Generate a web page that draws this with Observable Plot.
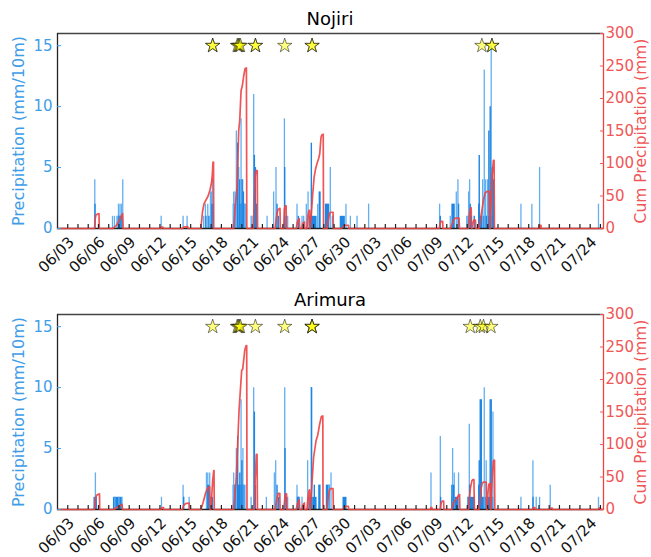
<!DOCTYPE html>
<html><head><meta charset="utf-8">
<script src="https://cdn.jsdelivr.net/npm/d3@7"></script>
<script src="https://cdn.jsdelivr.net/npm/@observablehq/plot@0.6"></script>
<style>
html,body{margin:0;padding:0;background:#fff;}
body{width:651px;height:557px;overflow:hidden;font-family:"DejaVu Sans",sans-serif;}
.panel{position:relative;width:651px;}
.panel svg{display:block;overflow:visible;}
.title{position:absolute;left:57px;width:546px;top:10px;text-align:center;font-size:18px;line-height:18px;color:#000;font-family:"DejaVu Sans";}
</style></head>
<body><div id="chart"></div>
<script>
// ---- data (time = days since 06/03 00:00) ----
const YEAR = 2020;
const xTickLabels = ["06/03","06/06","06/09","06/12","06/15","06/18","06/21","06/24","06/27","06/30","07/03","07/06","07/09","07/12","07/15","07/18","07/21","07/24"];
const leftTicks = [0, 5, 10, 15];
const rightTicks = [0, 50, 100, 150, 200, 250, 300];
const xEndDays = 53.3;

const nojiriLight = [
[3.64,4],[5.37,1],[5.56,1],[5.8,1],[5.95,2],[6.1,2],[6.24,2],[6.37,4],
[10.12,1],[12.26,1],[12.65,1],
[14.27,1],[14.44,2],[14.67,2],[14.93,3],[15.02,3],[15.12,4],
[17.2,3],[17.33,3],[17.46,8],[17.69,5],[17.92,9],[18.08,4],[18.24,2],[18.37,2],
[18.9,1],[18.99,1],[19.15,11],
[20.46,1],[21.1,3],[21.33,5],[22.15,9],[22.47,1],
[23.38,2],[23.87,1],[24.03,1],
[24.29,2],[24.46,3],[25.4,2],[25.66,3],[26.63,5],[26.83,1],
[28.16,2],[28.59,1],[29.24,1],[30.37,2],
[37.3,2],[38.34,1],[38.93,3],[39.09,4],
[39.95,1],[40.05,1],[40.13,3],[40.23,4],[40.33,1],
[41.5,4],[41.66,13],[41.79,4],[41.98,4],[42.34,15],
[45.24,2],[46.31,2],[47.06,5],[52.81,2]
];
const nojiriDark = [
[3.66,2],[6.0,1],[6.2,1],
[14.49,1],[14.78,1],[15.07,2],[15.19,2],
[17.59,7],[17.79,4],[18.02,4],[18.15,3],
[19.22,6],[19.32,5],[19.41,2],
[21.43,2],[21.56,1],[22.18,5],[22.31,1],
[23.51,1],
[24.62,1],[24.78,7],[25.56,3],
[37.37,1],[39.15,2],[40.29,2],[40.4,1],[40.68,1],
[41.17,6],[41.86,1],[42.11,8],[42.24,10],[42.44,5],[42.57,4]
];
const nojiriDense = [[5.9,6.35,1],[17.15,18.35,2],[24.68,25.34,1],[26.15,26.57,2],[27.6,28.1,1],[38.5,38.83,2],[41.1,41.3,2],[41.3,42.6,1]];
const nojiriCum = [
[0,0],
[3.62,0],[3.68,15],[3.75,21],[4.05,23],[4.08,0],
[5.4,0],[5.7,4],[5.95,10],[6.2,18],[6.35,23],[6.4,0],
[10.1,0],[10.15,2],[10.3,2],[10.32,0],
[12.2,0],[12.3,2],[12.7,3],[12.75,0],
[14.0,0],[14.15,25],[14.3,38],[14.5,44],[14.7,50],[14.9,60],[15.05,72],[15.12,85],[15.18,102],[15.23,102],[15.25,0],
[17.2,0],[17.37,38],[17.53,63],[17.69,151],[17.79,166],[17.92,212],[18.05,220],[18.18,235],[18.31,246],[18.44,247],[18.48,0],
[19.12,0],[19.2,40],[19.3,80],[19.36,89],[19.5,89],[19.53,0],
[21.25,0],[21.35,15],[21.5,28],[21.6,30],[21.72,31],[21.75,0],
[22.08,0],[22.15,30],[22.24,35],[22.32,35],[22.34,0],
[23.3,0],[23.45,12],[23.6,15],[23.65,0],
[23.85,0],[23.95,8],[24.1,10],[24.12,0],
[24.35,0],[24.45,20],[24.55,28],[24.6,28],[24.62,0],
[24.65,0],[24.75,15],[24.9,50],[25.05,79],[25.2,92],[25.33,100],[25.5,108],[25.6,115],[25.72,140],[25.8,144],[25.94,145],[25.97,0],
[26.3,0],[26.4,10],[26.55,22],[26.65,25],[26.9,25],[26.93,0],
[27.7,0],[27.9,3],[28.1,5],[28.4,5],[28.42,0],
[37.28,0],[37.35,8],[37.45,11],[37.6,11],[37.62,0],
[38.35,0],[38.5,6],[38.7,14],[38.85,16],[39.2,16],[39.24,0],
[40.1,0],[40.2,20],[40.3,30],[40.38,32],[40.42,0],
[40.45,0],[40.55,8],[40.65,13],[40.8,13],[40.82,0],
[41.15,0],[41.3,15],[41.45,30],[41.6,45],[41.75,55],[41.95,57],[42.15,57],[42.2,0],
[42.22,0],[42.32,40],[42.42,80],[42.55,105],[42.62,105],[42.65,0],
[47.0,0],[47.05,5],[47.2,5],[47.22,0],
[53.3,0]
];
const nojiriStars = [15.15,15.15,17.55,17.65,17.75,17.85,19.32,19.32,22.18,24.85,24.85,41.43,42.41,42.41];

const arimuraLight = [
[3.7,3],[5.6,1],[6.0,1],[6.3,1],
[10.15,1],[12.26,2],[12.85,1],
[14.54,3],[14.67,3],[14.86,3],
[17.2,3],[17.46,5],[17.92,9],[18.1,5],[18.3,2],
[18.9,1],[19.15,10],
[20.39,1],[21.17,3],[21.3,4],[22.18,10],[22.47,1],
[23.38,2],[23.87,1],
[24.42,4],[24.82,10],[26.47,2],[26.7,3],
[36.46,3],[37.37,6],[38.57,5],[38.73,3],[39.15,3],
[40.2,7],[41.66,10],[41.85,4],[42.51,8],
[45.24,1],[46.41,4],[46.73,1],[47.06,1],[48.1,2],[52.81,1]
];
const arimuraDark = [
[3.72,1],[12.32,1],
[14.67,2],[14.76,2],[15.02,1],[15.12,1],
[17.59,6],[17.8,3],[18.0,4],
[19.22,8],[19.32,2],
[21.43,2],[21.59,1],[22.21,5],[22.34,1],
[23.45,1],[23.58,1],
[24.55,1],[24.78,10],[25.07,2],
[37.4,1],[38.5,2],[38.67,2],
[40.07,1],[40.23,2],
[41.17,4],[41.27,9],[41.37,9],[42.24,9],[42.34,9],[46.42,1]
];
const arimuraDense = [[3.56,3.9,1],[5.46,6.34,1],[17.14,18.34,2],[23.4,23.6,1],[24.68,25.34,1],[25.5,25.73,2],[26.24,26.63,2],[27.87,28.26,1],[38.5,39.25,1],[40.13,40.78,1],[41.1,41.4,2],[41.1,42.6,1]];
const arimuraCum = [
[0,0],
[3.6,0],[3.7,15],[3.8,22],[4.1,24],[4.12,0],
[5.5,0],[5.8,3],[6.1,6],[6.3,8],[6.35,0],
[10.1,0],[10.2,3],[10.35,3],[10.37,0],
[12.2,0],[12.3,6],[12.5,9],[12.85,10],[12.88,0],
[14.0,0],[14.2,10],[14.45,25],[14.65,33],[14.85,35],[14.9,0],
[14.97,0],[15.05,20],[15.15,45],[15.25,60],[15.28,60],[15.3,0],
[17.2,0],[17.46,50],[17.72,152],[17.98,214],[18.08,216],[18.28,245],[18.41,252],[18.47,252],[18.5,0],
[19.2,0],[19.3,45],[19.41,85],[19.48,85],[19.52,0],
[21.25,0],[21.4,15],[21.55,25],[21.7,25],[21.73,0],
[22.1,0],[22.18,15],[22.26,24],[22.36,24],[22.38,0],
[23.3,0],[23.45,10],[23.6,15],[23.65,0],
[23.85,0],[23.95,7],[24.1,10],[24.12,0],
[24.35,0],[24.45,18],[24.55,29],[24.6,30],[24.63,0],
[24.68,0],[24.8,30],[25.0,80],[25.24,106],[25.4,114],[25.6,132],[25.76,143],[25.9,144],[25.92,0],
[26.3,0],[26.4,15],[26.55,30],[26.65,32],[26.9,32],[26.93,0],
[27.8,0],[28.0,3],[28.2,5],[28.4,5],[28.42,0],
[36.4,0],[36.45,3],[36.55,3],[36.57,0],
[37.35,0],[37.45,10],[37.55,13],[37.7,13],[37.72,0],
[38.48,0],[38.6,8],[38.75,13],[38.95,16],[39.15,22],[39.25,23],[39.28,0],
[40.12,0],[40.2,15],[40.3,32],[40.45,44],[40.55,46],[40.65,46],[40.7,0],
[41.15,0],[41.25,15],[41.35,32],[41.45,40],[41.55,42],[41.85,42],[41.9,0],
[41.95,0],[42.02,25],[42.1,38],[42.18,40],[42.24,40],[42.27,0],
[42.3,0],[42.38,30],[42.46,55],[42.55,75],[42.66,76],[42.69,0],
[46.4,0],[46.45,3],[46.6,3],[46.62,0],
[48.1,0],[48.15,2],[48.3,2],[48.32,0],
[52.8,0],[52.85,2],[53.0,2],[53.02,0],
[53.3,0]
];
const arimuraStars = [15.15,17.55,17.65,17.75,17.85,19.32,22.18,24.85,24.85,24.85,40.29,41.27,41.59,42.31];

// ---- helpers ----
const start = Date.UTC(YEAR, 5, 3);
const day = t => new Date(start + t * 864e5);
const parseMD = s => { const [m, d] = s.split("/").map(Number); return new Date(Date.UTC(YEAR, m - 1, d)); };
const Y_MAX = 16, CUM_MAX = 300;
const toLeft = c => c * Y_MAX / CUM_MAX;
const BLUE_TXT = "#3f9de8", RED_TXT = "#f05656", RED_LINE = "#ee4242";
const LIGHT = "#62aff2", DARK = "#1e86e2";
const FONT = "DejaVu Sans";
const dailyTicks = d3.range(1, Math.floor(xEndDays) + 1).map(day);

function panel(title, light, dark, dense, cum, stars, height, marginBottom) {
  const svg = Plot.plot({
    width: 651, height, marginTop: 33, marginBottom, marginLeft: 57, marginRight: 48,
    style: {fontFamily: FONT, background: "white", overflow: "visible"},
    x: {type: "utc", domain: [day(0), day(xEndDays)], axis: null},
    y: {domain: [0, Y_MAX], axis: null},
    marks: [
      Plot.rect(dense, {x1: d => day(d[0]), x2: d => day(d[1]), y1: () => 0, y2: d => d[2], fill: DARK}),
      Plot.ruleX(light, {x: d => day(d[0]), y1: () => 0, y2: d => d[1], stroke: LIGHT, strokeWidth: 1.3}),
      Plot.ruleX(dark, {x: d => day(d[0]), y1: () => 0, y2: d => d[1], stroke: DARK, strokeWidth: 1.4}),
      Plot.ruleY([Y_MAX], {stroke: "#444", strokeWidth: 1.3}),
      Plot.ruleY([0], {stroke: "#222", strokeWidth: 1.3}),
      Plot.ruleX([day(0)], {stroke: "#222", strokeWidth: 1.3}),
      Plot.line(cum, {x: d => day(d[0]), y: d => toLeft(d[1]), stroke: RED_LINE, strokeWidth: 1.7, strokeOpacity: 0.9}),
      Plot.ruleX([day(xEndDays)], {stroke: RED_LINE, strokeWidth: 1.3}),
      Plot.ruleX(dailyTicks, {x: d => d, y1: () => 0, y2: () => 0.33, stroke: "#222", strokeWidth: 1.2}),
      Plot.axisY(leftTicks, {anchor: "left", tickSize: 4, dx: 4, tickPadding: 5, color: BLUE_TXT, fontSize: 15, label: null}),
      Plot.axisY(rightTicks.map(toLeft), {anchor: "right", tickSize: 4, dx: -4, tickPadding: 2, color: RED_TXT, fontSize: 15, label: null,
        tickFormat: d => String(Math.round(d * CUM_MAX / Y_MAX))}),
      Plot.text(xTickLabels, {x: d => parseMD(d), y: () => 0, text: d => d, rotate: -45, textAnchor: "end", lineAnchor: "top",
        dx: 10, dy: 7, fontSize: 15, fill: "#111"}),
      Plot.text(["Precipitation (mm/10m)"], {frameAnchor: "left", dx: -38.5, rotate: -90, textAnchor: "middle", fontSize: 16, fill: BLUE_TXT}),
      Plot.text(["Cum Precipitation (mm)"], {frameAnchor: "right", dx: 38, rotate: -90, textAnchor: "middle", fontSize: 15.5, fill: RED_TXT}),
      Plot.dot(stars, {x: d => day(d), y: () => 15, symbol: "star", r: 4.5, fill: "yellow", fillOpacity: 0.5, stroke: "black", strokeOpacity: 0.5, strokeWidth: 1})
    ]
  });
  const div = document.createElement("div");
  div.className = "panel";
  div.style.height = height + "px";
  div.appendChild(svg);
  const t = document.createElement("div");
  t.className = "title";
  t.textContent = title;
  div.appendChild(t);
  return div;
}

const root = document.getElementById("chart");
root.appendChild(panel("Nojiri", nojiriLight, nojiriDark, nojiriDense, nojiriCum, nojiriStars, 281, 53));
root.appendChild(panel("Arimura", arimuraLight, arimuraDark, arimuraDense, arimuraCum, arimuraStars, 276, 48));
</script></body></html>
